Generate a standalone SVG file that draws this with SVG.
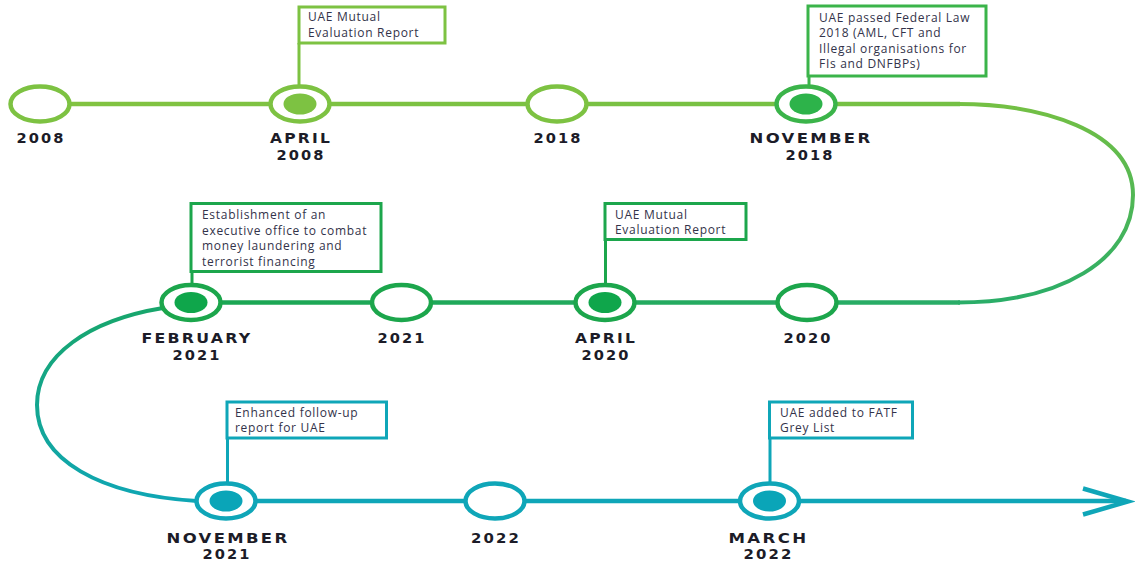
<svg xmlns="http://www.w3.org/2000/svg" width="1135" height="566" viewBox="0 0 1135 566">
<style>
.ring{fill:#fff;stroke-width:4.5}
.box{fill:#fff;stroke-width:3}
.stem{fill:none;stroke-width:3}
.ln{fill:none;stroke-width:4.5;stroke-linecap:butt}
.cv{fill:none;stroke-width:4}
.lab{font-family:"DejaVu Sans",Verdana,sans-serif;font-weight:bold;font-size:14px;fill:#1c1c28;text-anchor:middle}
.m{letter-spacing:2px}
.y{letter-spacing:2px}
.note{font-family:"Open Sans","Liberation Sans",sans-serif;font-size:12px;fill:#33334a;letter-spacing:0.7px}
.g1{stroke:#7dc242}.f1{fill:#7dc242}
.g2{stroke:#3bb44a}.f2{fill:#2db34a}
.g3{stroke:#1ca64c}.f3{fill:#0fa64b}
.g4{stroke:#0fa6b8}.f4{fill:#0aa5b8}
</style>
<defs>
<linearGradient id="gTop" gradientUnits="userSpaceOnUse" x1="40" y1="0" x2="960" y2="0">
<stop offset="0" stop-color="#82c341"/><stop offset="1" stop-color="#74c044"/>
</linearGradient>
<linearGradient id="gRight" gradientUnits="userSpaceOnUse" x1="0" y1="104" x2="0" y2="303">
<stop offset="0" stop-color="#74c044"/><stop offset="1" stop-color="#2aad68"/>
</linearGradient>
<linearGradient id="gMid" gradientUnits="userSpaceOnUse" x1="960" y1="0" x2="190" y2="0">
<stop offset="0" stop-color="#2aad68"/><stop offset="1" stop-color="#1aa652"/>
</linearGradient>
<linearGradient id="gLeft" gradientUnits="userSpaceOnUse" x1="0" y1="305" x2="0" y2="501">
<stop offset="0" stop-color="#18a66a"/><stop offset="1" stop-color="#0fa6b4"/>
</linearGradient>
</defs>

<g id="connectors">
<path class="ln" stroke="url(#gTop)" d="M70 104 H960"/>
<path class="cv" stroke="url(#gRight)" d="M958 104 C1040 104 1133 130 1133 195 C1133 260 1060 302.5 958 302.5"/>
<path class="ln" stroke="url(#gMid)" d="M960 302.5 H210"/>
<path class="cv" stroke="url(#gLeft)" d="M163 308 C90 320 37 355 37 405 C37 460 100 495 197 501"/>
<path class="ln g4" d="M226 501 H1126"/>
<path class="ln g4" d="M1083 488.5 L1128 501.5 L1083 514.5"/>
</g>

<g id="n2008">
<ellipse class="ring g1" cx="40" cy="104" rx="29.5" ry="17.5"/>
<text class="lab y" x="41" y="143" textLength="49" lengthAdjust="spacingAndGlyphs">2008</text>
</g>

<g id="nApril2008">
<rect class="box g1" x="299" y="7" width="146" height="36"/>
<line class="stem g1" x1="299" y1="43" x2="299" y2="87"/>
<text class="note" x="308" y="21">UAE Mutual</text>
<text class="note" x="308" y="36.5">Evaluation Report</text>
<ellipse class="ring g1" cx="300" cy="104" rx="29.5" ry="17.5"/>
<ellipse class="f1" cx="300" cy="104" rx="16.5" ry="10.5"/>
<text class="lab m" x="301" y="143" textLength="62" lengthAdjust="spacingAndGlyphs">APRIL</text>
<text class="lab y" x="301" y="160" textLength="49" lengthAdjust="spacingAndGlyphs">2008</text>
</g>

<g id="n2018">
<ellipse class="ring g1" cx="557" cy="104" rx="29.5" ry="17.5"/>
<text class="lab y" x="558" y="143" textLength="49" lengthAdjust="spacingAndGlyphs">2018</text>
</g>

<g id="nNov2018">
<rect class="box g2" x="808" y="6" width="178" height="70"/>
<line class="stem g2" x1="809" y1="76" x2="809" y2="87"/>
<text class="note" x="819" y="21.5">UAE passed Federal Law</text>
<text class="note" x="819" y="37">2018 (AML, CFT and</text>
<text class="note" x="819" y="52.5">Illegal organisations for</text>
<text class="note" x="819" y="68">FIs and DNFBPs)</text>
<ellipse class="ring g2" cx="806" cy="104" rx="29.5" ry="17.5"/>
<ellipse class="f2" cx="806" cy="104" rx="16.5" ry="10.5"/>
<text class="lab m" x="811" y="143" textLength="123" lengthAdjust="spacingAndGlyphs">NOVEMBER</text>
<text class="lab y" x="810" y="160" textLength="49" lengthAdjust="spacingAndGlyphs">2018</text>
</g>

<g id="nFeb2021">
<rect class="box g3" x="191" y="203.5" width="190" height="68"/>
<line class="stem g3" x1="192" y1="271" x2="192" y2="285"/>
<text class="note" x="202" y="219">Establishment of an</text>
<text class="note" x="202" y="234.5">executive office to combat</text>
<text class="note" x="202" y="250">money laundering and</text>
<text class="note" x="202" y="265.5">terrorist financing</text>
<ellipse class="ring g3" cx="191" cy="302.5" rx="29.5" ry="17.5"/>
<ellipse class="f3" cx="191" cy="302.5" rx="16.5" ry="10.5"/>
<text class="lab m" x="197" y="343" textLength="111" lengthAdjust="spacingAndGlyphs">FEBRUARY</text>
<text class="lab y" x="197" y="360" textLength="49" lengthAdjust="spacingAndGlyphs">2021</text>
</g>

<g id="n2021">
<ellipse class="ring g3" cx="401.5" cy="302.5" rx="29.5" ry="17.5"/>
<text class="lab y" x="402" y="343" textLength="49" lengthAdjust="spacingAndGlyphs">2021</text>
</g>

<g id="nApril2020">
<rect class="box g3" x="605" y="203.5" width="141" height="36"/>
<line class="stem g3" x1="605.5" y1="239" x2="605.5" y2="285"/>
<text class="note" x="615" y="218.5">UAE Mutual</text>
<text class="note" x="615" y="234">Evaluation Report</text>
<ellipse class="ring g3" cx="605" cy="302.5" rx="29.5" ry="17.5"/>
<ellipse class="f3" cx="605" cy="302.5" rx="16.5" ry="10.5"/>
<text class="lab m" x="606" y="343" textLength="62" lengthAdjust="spacingAndGlyphs">APRIL</text>
<text class="lab y" x="606" y="360" textLength="49" lengthAdjust="spacingAndGlyphs">2020</text>
</g>

<g id="n2020">
<ellipse class="ring g3" cx="807" cy="302.5" rx="29.5" ry="17.5"/>
<text class="lab y" x="808" y="343" textLength="49" lengthAdjust="spacingAndGlyphs">2020</text>
</g>

<g id="nNov2021">
<rect class="box g4" x="227" y="402" width="159.5" height="36"/>
<line class="stem g4" x1="227.5" y1="437" x2="227.5" y2="483"/>
<text class="note" x="235" y="417">Enhanced follow-up</text>
<text class="note" x="235" y="432">report for UAE</text>
<ellipse class="ring g4" cx="226" cy="501" rx="29.5" ry="17.5"/>
<ellipse class="f4" cx="226" cy="501" rx="16.5" ry="10.5"/>
<text class="lab m" x="228" y="543" textLength="123" lengthAdjust="spacingAndGlyphs">NOVEMBER</text>
<text class="lab y" x="227" y="559" textLength="49" lengthAdjust="spacingAndGlyphs">2021</text>
</g>

<g id="n2022">
<ellipse class="ring g4" cx="495" cy="501" rx="29.5" ry="17.5"/>
<text class="lab y" x="496" y="543" textLength="50" lengthAdjust="spacingAndGlyphs">2022</text>
</g>

<g id="nMarch2022">
<rect class="box g4" x="769.5" y="402" width="143" height="36"/>
<line class="stem g4" x1="770" y1="437" x2="770" y2="483"/>
<text class="note" x="780" y="417">UAE added to FATF</text>
<text class="note" x="780" y="432">Grey List</text>
<ellipse class="ring g4" cx="769.5" cy="501" rx="29.5" ry="17.5"/>
<ellipse class="f4" cx="769.5" cy="501" rx="16.5" ry="10.5"/>
<text class="lab m" x="768.5" y="543" textLength="80" lengthAdjust="spacingAndGlyphs">MARCH</text>
<text class="lab y" x="768.5" y="559" textLength="50" lengthAdjust="spacingAndGlyphs">2022</text>
</g>
</svg>
